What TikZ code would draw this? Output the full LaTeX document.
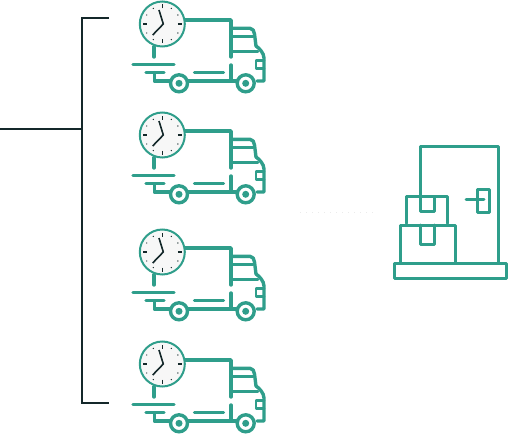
\documentclass[tikz,border=0pt]{standalone}
\usepackage{tikz}
\usetikzlibrary{arrows.meta,positioning,calc}
\definecolor{tealline}{HTML}{2F9E8B}
\definecolor{darkline}{HTML}{14282A}
\definecolor{clockfill}{HTML}{F7F7F7}
\tikzset{
  icon/.style={draw=tealline,line width=3.4pt,line cap=round,line join=round},
  thin icon/.style={icon,line width=2.8pt},
  door line/.style={icon,line width=3pt},
  bracket/.style={draw=darkline,line width=1.8pt},
  clockface/.style={circle,draw=tealline,fill=clockfill,line width=2pt,inner sep=0pt,minimum size=45pt},
  wheel/.style={circle,draw=tealline,fill=white,line width=3.4pt,inner sep=0pt,minimum size=17pt},
  hub/.style={circle,fill=tealline,inner sep=0pt,minimum size=7pt},
  hand/.style={draw=darkline,line width=1.6pt},
  tick/.style={draw=darkline,line width=1.3pt}
}
\begin{document}
\begin{tikzpicture}[x=1pt,y=-1pt]
  \useasboundingbox (0,0) rectangle (509,436);

  % bracket
  \coordinate (feed) at (0,128.7);
  \coordinate (top) at (109,18);
  \coordinate (bottom) at (109,403);
  \coordinate (spine) at (82,128.7);
  \draw[bracket] (top) -| (spine) |- (bottom);
  \draw[bracket] (feed) -- (spine);

  % trucks
  \foreach \n/\dy in {1/0,2/111,3/228,4/340} {
    \begin{scope}[yshift=-\dy pt]
      % body and cab
      \draw[icon] (165,20) -- (231,20) -- (231,57);
      \draw[icon] (231,65) -- (231,80);
      \draw[icon] (231,28.3) -- (250,28.3) .. controls (253,28.3) and (254,31) .. (254.5,34)
        -- (256,46) .. controls (259,48) and (264,53) .. (264,58) -- (264,81) -- (257,81);
      \draw[thin icon] (232,36.7) -- (253,36.7);
      \draw[thin icon] (232,51.7) -- (258,51.7);
      \draw[thin icon] (264,60.5) -- (256,60.5) -- (256,68.5) -- (264,68.5);
      % exhaust and speed lines
      \draw[icon] (154,46.7) -- (154,57);
      \draw[icon] (133,64.3) -- (174,64.3);
      \draw[icon] (146,72.7) -- (164,72.7);
      \draw[icon] (154.3,72.7) -- (154.3,81) -- (170,81);
      \draw[icon] (194.5,72.7) -- (223.5,72.7);
      \draw[icon] (188,81) -- (236,81);
      % wheels
      \node[wheel] (rear\n) at (179,83.3) {};
      \node[wheel] (front\n) at (245.7,83.3) {};
      \node[hub] at (rear\n) {};
      \node[hub] at (front\n) {};
      % clock
      \node[clockface] (clock\n) at (162.3,24) {};
      \foreach \a in {0,90,180,270}
        \draw[tick] ($(clock\n)+(\a:15.5)$) -- ($(clock\n)+(\a:19.5)$);
      \foreach \a in {30,60,120,150,210,240,300,330}
        \fill[darkline] ($(clock\n)+(\a:18)$) circle (0.7);
      \draw[hand] (159,10) -- (163.3,24) -- (152.7,35);
    \end{scope}
  }

  % faint dots between trucks and door
  \coordinate (fadefrom) at (300,212);
  \coordinate (fadeto) at (375,212);
  \draw[black!8,line width=1pt,dash pattern=on 1pt off 5pt] (fadefrom) -- (fadeto);

  % door
  \draw[door line] (420,195) -- (420,146.7) -- (498.3,146.7) -- (498.3,263.3);
  \draw[door line] (477.7,189.3) rectangle (489,212.7);
  \draw[door line] (466,199) -- (484,199);

  % parcels
  \draw[door line] (406.3,223.3) -- (406.3,196.7) -- (447.3,196.7) -- (447.3,223.3);
  \draw[door line] (420,196.7) -- (420,211.7) -- (434.3,211.7) -- (434.3,196.7);
  \draw[door line] (400,263.3) -- (400,225) -- (455.7,225) -- (455.7,263.3);
  \draw[door line] (420,225) -- (420,244) -- (434.3,244) -- (434.3,225);
  \draw[door line] (394.3,263.8) rectangle (506.7,278.3);
\end{tikzpicture}
\end{document}
